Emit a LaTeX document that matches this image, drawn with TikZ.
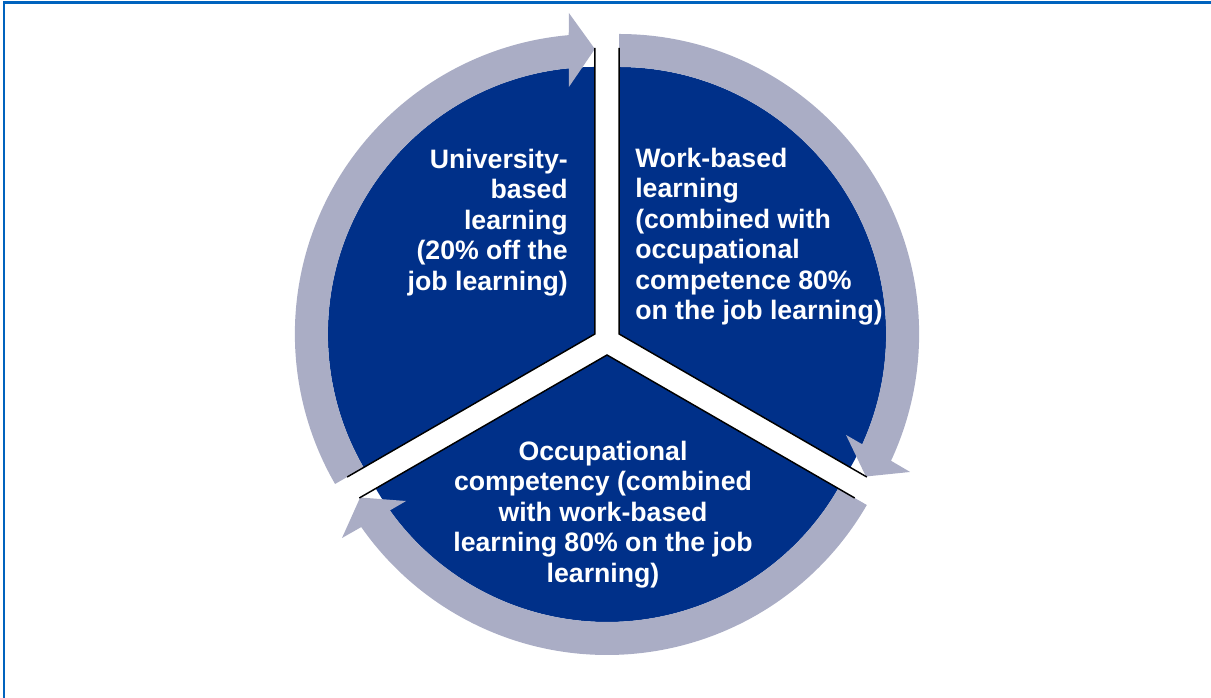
\documentclass[tikz,border=0pt]{standalone}
\usepackage{fontspec}
\setmainfont{Liberation Sans}
\usetikzlibrary{calc}
\definecolor{navy}{RGB}{0,48,137}
\definecolor{lilac}{RGB}{170,173,197}
\definecolor{frameblue}{RGB}{0,99,190}

% curved arrow round one slice: centre, start angle, tip angle (clockwise)
\newcommand{\slicearrow}[3]{%
  \fill[ringarrow] ($(#1)+(#2:300)$) arc[start angle=#2, end angle=#3+5, radius=300]
    -- ($(#1)+(#3:321)+(#3+90:26)$)
    -- ($(#1)+(#3:285)$)
    -- ($(#1)+(#3:247)+(#3+90:26)$)
    -- ($(#1)+(#3+5.6:267)$)
    arc[start angle=#3+5.6, end angle=#2, radius=267] -- cycle;
}

\begin{document}
\begin{tikzpicture}[
    x=0.75pt, y=0.75pt,
    slice/.style={fill=navy},
    ringarrow/.style={fill=lilac},
    rim/.style={draw=black, line width=1.1pt},
    blurb/.style={text=white, inner sep=0pt, font=\fontsize{20}{22.9}\selectfont\bfseries},
    frame/.style={draw=frameblue, line width=1.8pt}
  ]
  \useasboundingbox (0,0) rectangle (1211,698);
  \draw[frame] (4,0) -- (4,695.5) -- (1211,695.5);

  \coordinate (ctr) at (607,357);
  \coordinate (cL) at ($(ctr)+(150:14)$);
  \coordinate (cR) at ($(ctr)+(30:14)$);
  \coordinate (cB) at ($(ctr)+(270:14)$);

  % the three slices
  \fill[slice] (cL) -- ($(cL)+(90:267)$) arc[start angle=90, end angle=210, radius=267] -- cycle;
  \fill[slice] (cR) -- ($(cR)+(-30:267)$) arc[start angle=-30, end angle=90, radius=267] -- cycle;
  \fill[slice] (cB) -- ($(cB)+(210:267)$) arc[start angle=210, end angle=330, radius=267] -- cycle;

  % arrows round the rim
  \slicearrow{cL}{210}{90}
  \slicearrow{cR}{90}{-30}
  \slicearrow{cB}{-30}{-150}

  \draw[rim] ($(cL)+(90:286)$) -- (cL) -- ($(cL)+(210:286)$);
  \draw[rim] ($(cR)+(90:286)$) -- (cR) -- ($(cR)+(-30:286)$);
  \draw[rim] ($(cB)+(210:286)$) -- (cB) -- ($(cB)+(-30:286)$);

  \node[blurb, align=right, anchor=north east] (uni) at (568,549.4)
    {University-\\based\\learning\\(20\% off the\\job learning)};
  \node[blurb, align=left, anchor=north west] (work) at (635,550.4)
    {Work-based\\learning\\(combined with\\occupational\\competence 80\%\\on the job learning)};
  \node[blurb, align=center, anchor=north] (occ) at (603,257.4)
    {Occupational\\competency (combined\\with work-based\\learning 80\% on the job\\learning)};
\end{tikzpicture}
\end{document}
